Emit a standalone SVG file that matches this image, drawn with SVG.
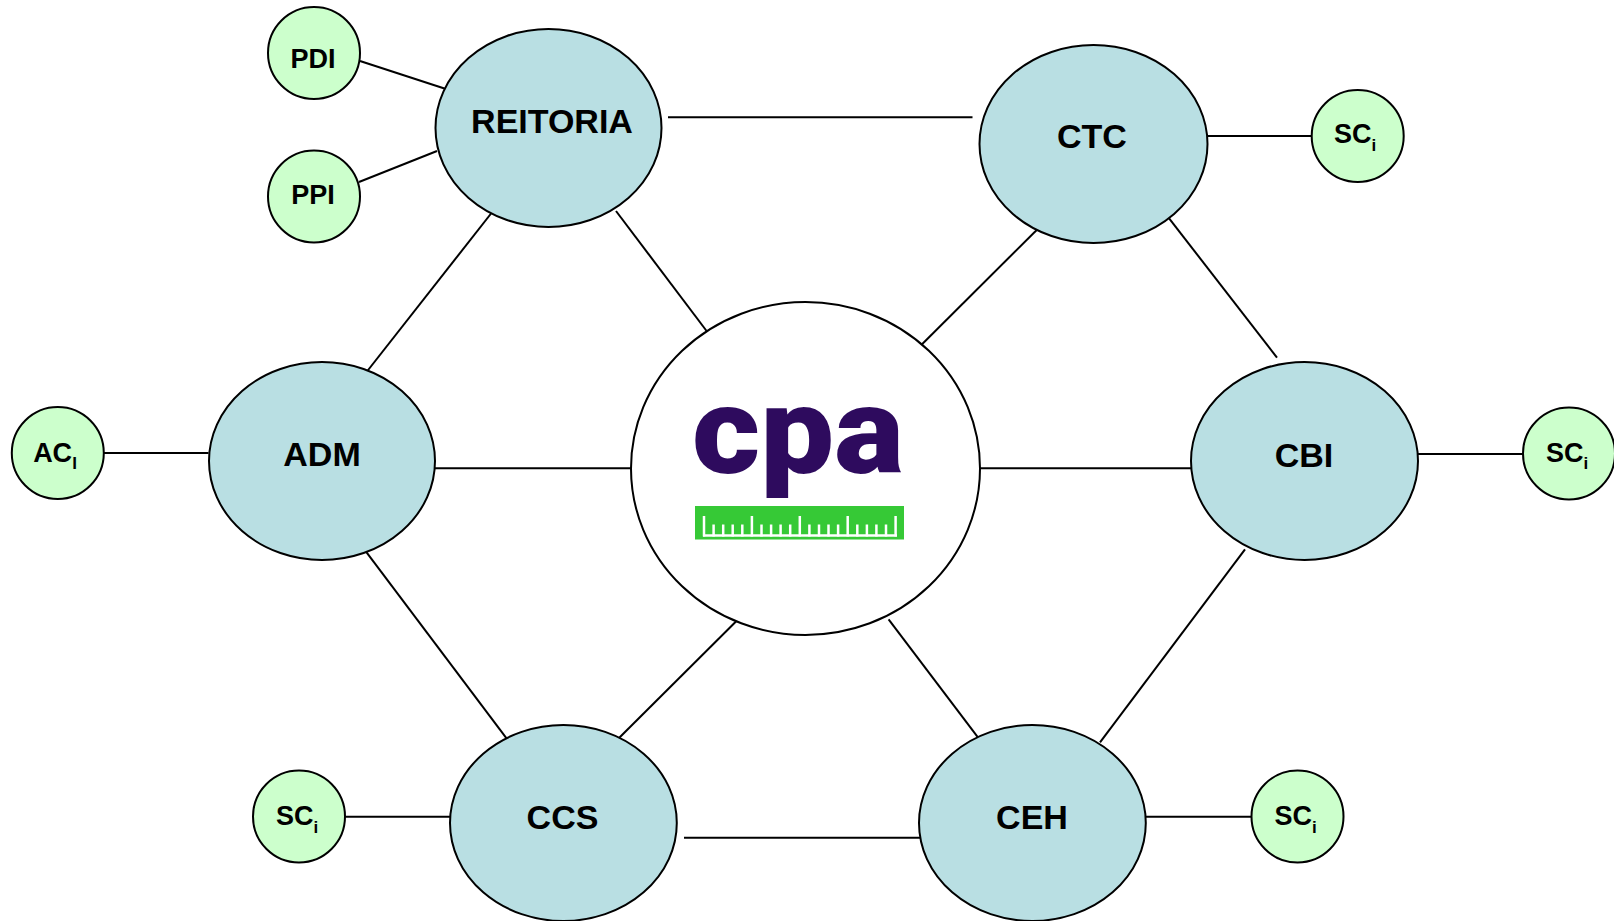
<svg xmlns="http://www.w3.org/2000/svg" width="1614" height="921" viewBox="0 0 1614 921">
<style>
.big{fill:#b9dfe3;stroke:#000;stroke-width:2}
.small{fill:#ccffcc;stroke:#000;stroke-width:2}
.hub{fill:#fff;stroke:#000;stroke-width:2}
.lbl{font-family:"Liberation Sans",Arial,sans-serif;font-weight:bold;font-size:34px;fill:#000;text-anchor:middle}
.slbl{font-family:"Liberation Sans",Arial,sans-serif;font-weight:bold;font-size:27px;fill:#000;text-anchor:middle}
.sub{font-size:17px}
#connectors line{stroke:#000;stroke-width:2}
.tick{stroke:#fff;stroke-width:2.5}
</style>
<rect width="1614" height="921" fill="#fff"/>
<g id="connectors">
<line x1="360" y1="61" x2="449" y2="90"/>
<line x1="359" y1="182" x2="437" y2="151"/>
<line x1="668" y1="117.3" x2="972.5" y2="117.3"/>
<line x1="494.6" y1="209" x2="365" y2="374"/>
<line x1="616" y1="211" x2="707" y2="331.5"/>
<line x1="1040" y1="226.7" x2="919.5" y2="346.7"/>
<line x1="1207" y1="136" x2="1312" y2="136"/>
<line x1="1166" y1="214.3" x2="1277" y2="357.7"/>
<line x1="104" y1="453" x2="208.5" y2="453"/>
<line x1="435" y1="468.3" x2="631" y2="468.3"/>
<line x1="980" y1="468.3" x2="1191" y2="468.3"/>
<line x1="1418" y1="454" x2="1524" y2="454"/>
<line x1="364.3" y1="549.3" x2="509" y2="741.7"/>
<line x1="737.5" y1="620" x2="617" y2="740"/>
<line x1="888.6" y1="619.3" x2="980.4" y2="740.7"/>
<line x1="1245" y1="549.3" x2="1100" y2="742.3"/>
<line x1="345.4" y1="816.7" x2="450" y2="816.7"/>
<line x1="684" y1="837.7" x2="925" y2="837.7"/>
<line x1="1145.7" y1="816.7" x2="1251.8" y2="816.7"/>
</g>
<g id="cpa">
<ellipse class="hub" cx="805.5" cy="468.5" rx="174.5" ry="166.5"/>
<text x="692" y="472.7" font-family="Roboto,sans-serif" font-weight="900" font-size="122" fill="#2e0b5e" textLength="212" lengthAdjust="spacingAndGlyphs">cpa</text>
<rect x="695" y="506" width="209" height="33.5" fill="#36c936"/>
<g class="tick">
<line x1="703" y1="535.5" x2="897" y2="535.5"/>
<line x1="704" y1="516" x2="704" y2="536.5"/>
<line x1="713.6" y1="524.5" x2="713.6" y2="536.5"/>
<line x1="723.2" y1="524.5" x2="723.2" y2="536.5"/>
<line x1="732.7" y1="524.5" x2="732.7" y2="536.5"/>
<line x1="742.3" y1="524.5" x2="742.3" y2="536.5"/>
<line x1="751.9" y1="516" x2="751.9" y2="536.5"/>
<line x1="761.5" y1="524.5" x2="761.5" y2="536.5"/>
<line x1="771.1" y1="524.5" x2="771.1" y2="536.5"/>
<line x1="780.6" y1="524.5" x2="780.6" y2="536.5"/>
<line x1="790.2" y1="524.5" x2="790.2" y2="536.5"/>
<line x1="799.8" y1="516" x2="799.8" y2="536.5"/>
<line x1="809.4" y1="524.5" x2="809.4" y2="536.5"/>
<line x1="819" y1="524.5" x2="819" y2="536.5"/>
<line x1="828.5" y1="524.5" x2="828.5" y2="536.5"/>
<line x1="838.1" y1="524.5" x2="838.1" y2="536.5"/>
<line x1="847.7" y1="516" x2="847.7" y2="536.5"/>
<line x1="857.3" y1="524.5" x2="857.3" y2="536.5"/>
<line x1="866.9" y1="524.5" x2="866.9" y2="536.5"/>
<line x1="876.4" y1="524.5" x2="876.4" y2="536.5"/>
<line x1="886" y1="524.5" x2="886" y2="536.5"/>
<line x1="895.6" y1="516" x2="895.6" y2="536.5"/>
</g>
</g>
<g id="reitoria"><ellipse class="big" cx="548.5" cy="128" rx="113" ry="99"/><text class="lbl" x="552" y="133">REITORIA</text></g>
<g id="ctc"><ellipse class="big" cx="1093.5" cy="144" rx="114" ry="99"/><text class="lbl" x="1092" y="148">CTC</text></g>
<g id="adm"><ellipse class="big" cx="322" cy="461" rx="113" ry="99"/><text class="lbl" x="322" y="466">ADM</text></g>
<g id="cbi"><ellipse class="big" cx="1304.5" cy="461" rx="113.5" ry="99"/><text class="lbl" x="1304" y="466.5">CBI</text></g>
<g id="ccs"><ellipse class="big" cx="563.4" cy="823" rx="113.4" ry="98"/><text class="lbl" x="562.5" y="829">CCS</text></g>
<g id="ceh"><ellipse class="big" cx="1032.4" cy="823" rx="113.4" ry="98"/><text class="lbl" x="1032" y="829">CEH</text></g>
<g id="pdi"><circle class="small" cx="314" cy="53" r="46"/><text class="slbl" x="313" y="68" font-size="28">PDI</text></g>
<g id="ppi"><circle class="small" cx="314" cy="196.5" r="46"/><text class="slbl" x="313" y="204" font-size="28">PPI</text></g>
<g id="aci"><circle class="small" cx="57.8" cy="453" r="46"/><text class="slbl" x="55" y="461.7">AC<tspan class="sub" dy="7.6">I</tspan></text></g>
<g id="sc-ctc"><circle class="small" cx="1357.7" cy="136" r="46"/><text class="slbl" x="1355" y="143.3">SC<tspan class="sub" dy="7.4">i</tspan></text></g>
<g id="sc-cbi"><circle class="small" cx="1569" cy="453.5" r="46"/><text class="slbl" x="1567" y="461.7">SC<tspan class="sub" dy="7.6">i</tspan></text></g>
<g id="sc-ccs"><circle class="small" cx="299" cy="816.5" r="46"/><text class="slbl" x="297" y="825">SC<tspan class="sub" dy="7.6">i</tspan></text></g>
<g id="sc-ceh"><circle class="small" cx="1297.5" cy="816.5" r="46"/><text class="slbl" x="1295.5" y="825">SC<tspan class="sub" dy="7.6">i</tspan></text></g>
</svg>
